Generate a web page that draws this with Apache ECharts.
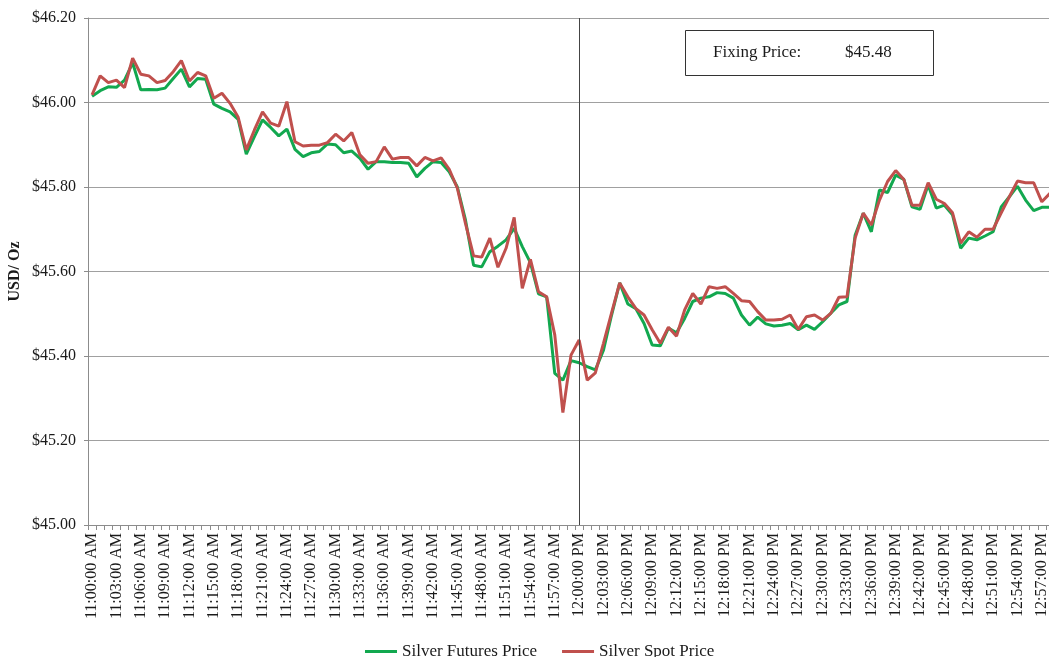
<!DOCTYPE html>
<html>
<head>
<meta charset="utf-8">
<script src="https://cdn.jsdelivr.net/npm/echarts/dist/echarts.min.js"></script>
<style>
html,body{margin:0;padding:0;background:#fff;}
#chart{width:1049px;height:657px;}
</style>
</head>
<body>
<div id="chart"></div>
<script>
const times = [
"11:00:00 AM","11:01:00 AM","11:02:00 AM","11:03:00 AM","11:04:00 AM","11:05:00 AM","11:06:00 AM","11:07:00 AM","11:08:00 AM","11:09:00 AM",
"11:10:00 AM","11:11:00 AM","11:12:00 AM","11:13:00 AM","11:14:00 AM","11:15:00 AM","11:16:00 AM","11:17:00 AM","11:18:00 AM","11:19:00 AM",
"11:20:00 AM","11:21:00 AM","11:22:00 AM","11:23:00 AM","11:24:00 AM","11:25:00 AM","11:26:00 AM","11:27:00 AM","11:28:00 AM","11:29:00 AM",
"11:30:00 AM","11:31:00 AM","11:32:00 AM","11:33:00 AM","11:34:00 AM","11:35:00 AM","11:36:00 AM","11:37:00 AM","11:38:00 AM","11:39:00 AM",
"11:40:00 AM","11:41:00 AM","11:42:00 AM","11:43:00 AM","11:44:00 AM","11:45:00 AM","11:46:00 AM","11:47:00 AM","11:48:00 AM","11:49:00 AM",
"11:50:00 AM","11:51:00 AM","11:52:00 AM","11:53:00 AM","11:54:00 AM","11:55:00 AM","11:56:00 AM","11:57:00 AM","11:58:00 AM","11:59:00 AM",
"12:00:00 PM","12:01:00 PM","12:02:00 PM","12:03:00 PM","12:04:00 PM","12:05:00 PM","12:06:00 PM","12:07:00 PM","12:08:00 PM","12:09:00 PM",
"12:10:00 PM","12:11:00 PM","12:12:00 PM","12:13:00 PM","12:14:00 PM","12:15:00 PM","12:16:00 PM","12:17:00 PM","12:18:00 PM","12:19:00 PM",
"12:20:00 PM","12:21:00 PM","12:22:00 PM","12:23:00 PM","12:24:00 PM","12:25:00 PM","12:26:00 PM","12:27:00 PM","12:28:00 PM","12:29:00 PM",
"12:30:00 PM","12:31:00 PM","12:32:00 PM","12:33:00 PM","12:34:00 PM","12:35:00 PM","12:36:00 PM","12:37:00 PM","12:38:00 PM","12:39:00 PM",
"12:40:00 PM","12:41:00 PM","12:42:00 PM","12:43:00 PM","12:44:00 PM","12:45:00 PM","12:46:00 PM","12:47:00 PM","12:48:00 PM","12:49:00 PM",
"12:50:00 PM","12:51:00 PM","12:52:00 PM","12:53:00 PM","12:54:00 PM","12:55:00 PM","12:56:00 PM","12:57:00 PM","12:58:00 PM"
];

const futuresPrice = [
46.015,46.028,46.037,46.036,46.053,46.094,46.030,46.031,46.030,46.034,
46.057,46.079,46.037,46.057,46.055,45.996,45.986,45.978,45.960,45.878,
45.919,45.959,45.941,45.921,45.937,45.889,45.872,45.881,45.884,45.902,
45.900,45.881,45.885,45.868,45.842,45.860,45.860,45.858,45.858,45.856,
45.824,45.844,45.860,45.858,45.836,45.800,45.722,45.615,45.611,45.647,
45.660,45.675,45.702,45.659,45.621,45.547,45.540,45.359,45.343,45.389,
45.384,45.375,45.367,45.414,45.497,45.573,45.523,45.512,45.477,45.426,
45.424,45.466,45.455,45.489,45.529,45.537,45.540,45.550,45.548,45.537,
45.497,45.473,45.492,45.476,45.471,45.473,45.477,45.462,45.473,45.463,
45.481,45.501,45.521,45.529,45.686,45.738,45.694,45.793,45.787,45.828,
45.818,45.753,45.747,45.805,45.750,45.757,45.734,45.655,45.679,45.675,
45.684,45.694,45.753,45.777,45.802,45.769,45.744,45.752,45.752
];

const spotPrice = [
46.018,46.063,46.047,46.053,46.035,46.105,46.067,46.063,46.047,46.052,
46.073,46.099,46.051,46.071,46.063,46.010,46.022,45.998,45.965,45.888,
45.935,45.978,45.951,45.944,46.002,45.907,45.897,45.899,45.899,45.905,
45.925,45.909,45.929,45.876,45.856,45.860,45.895,45.866,45.870,45.870,
45.850,45.870,45.862,45.869,45.842,45.797,45.714,45.637,45.634,45.679,
45.610,45.655,45.728,45.560,45.629,45.552,45.540,45.450,45.266,45.402,
45.438,45.343,45.360,45.430,45.502,45.573,45.540,45.512,45.497,45.462,
45.430,45.468,45.447,45.509,45.548,45.523,45.564,45.560,45.564,45.548,
45.531,45.529,45.505,45.485,45.485,45.487,45.497,45.463,45.493,45.497,
45.485,45.501,45.539,45.540,45.679,45.738,45.710,45.769,45.813,45.839,
45.818,45.757,45.757,45.810,45.771,45.761,45.739,45.667,45.694,45.681,
45.700,45.700,45.739,45.777,45.814,45.810,45.810,45.765,45.785
];

const seriesNames = ["Silver Futures Price", "Silver Spot Price"];
const fixingLabel = "Fixing Price:";
const fixingPrice = 45.48;
const markerTime = "12:00:00 PM";
const yMin = 45.0, yMax = 46.2, yStep = 0.2;

const FONT = '"Liberation Serif", "DejaVu Serif", serif';
const chart = echarts.init(document.getElementById('chart'), null, {renderer: 'canvas'});
chart.setOption({
  animation: false,
  backgroundColor: '#ffffff',
  textStyle: {fontFamily: FONT},
  grid: {left: 88, right: -5, top: 18, bottom: 132, containLabel: false, outerBoundsMode: 'none'},
  legend: {
    left: 360, top: 638,
    icon: 'rect', itemWidth: 32, itemHeight: 3, itemGap: 25,
    textStyle: {fontFamily: FONT, fontSize: 17, color: '#1a1a1a'},
    data: seriesNames
  },
  xAxis: {
    type: 'category',
    data: times,
    boundaryGap: true,
    axisLine: {lineStyle: {color: '#8c8c8c', width: 1}},
    axisTick: {show: true, interval: 0, length: 5, lineStyle: {color: '#8c8c8c'}},
    axisLabel: {interval: 2, rotate: 90, margin: 8, fontFamily: FONT, fontSize: 16, color: '#1a1a1a'},
    splitLine: {show: false}
  },
  yAxis: {
    type: 'value',
    min: yMin, max: yMax, interval: yStep,
    name: 'USD/ Oz',
    nameLocation: 'middle',
    nameGap: 65,
    nameMoveOverlap: false,
    nameRotate: 90,
    nameTextStyle: {fontFamily: FONT, fontSize: 16, fontWeight: 'bold', color: '#1a1a1a'},
    axisLine: {show: true, lineStyle: {color: '#8c8c8c', width: 1}},
    axisTick: {show: true, length: 4, lineStyle: {color: '#8c8c8c'}},
    axisLabel: {margin: 12, fontFamily: FONT, fontSize: 16, color: '#1a1a1a',
      formatter: v => '$' + v.toFixed(2)},
    splitLine: {show: true, lineStyle: {color: '#a0a0a0', width: 1}}
  },
  series: [
    {
      name: seriesNames[0], type: 'line', data: futuresPrice,
      showSymbol: false, symbol: 'none',
      lineStyle: {color: '#12a84f', width: 3},
      itemStyle: {color: '#12a84f'},
      z: 2
    },
    {
      name: seriesNames[1], type: 'line', data: spotPrice,
      showSymbol: false, symbol: 'none',
      lineStyle: {color: '#c0504d', width: 3},
      itemStyle: {color: '#c0504d'},
      z: 3,
      markLine: {
        silent: true, symbol: 'none', label: {show: false},
        lineStyle: {color: '#444', width: 1, type: 'solid'},
        data: [{xAxis: markerTime}]
      }
    }
  ],
  graphic: [
    {type: 'rect', left: 685, top: 30, shape: {width: 248, height: 45},
     style: {fill: '#fff', stroke: '#333', lineWidth: 1}, z: 10},
    {type: 'text', left: 713, top: 44, style: {text: fixingLabel, font: '17px ' + FONT, fill: '#1a1a1a'}, z: 11},
    {type: 'text', left: 845, top: 44, style: {text: '$' + fixingPrice.toFixed(2), font: '17px ' + FONT, fill: '#1a1a1a'}, z: 11}
  ]
});
</script>
</body>
</html>
